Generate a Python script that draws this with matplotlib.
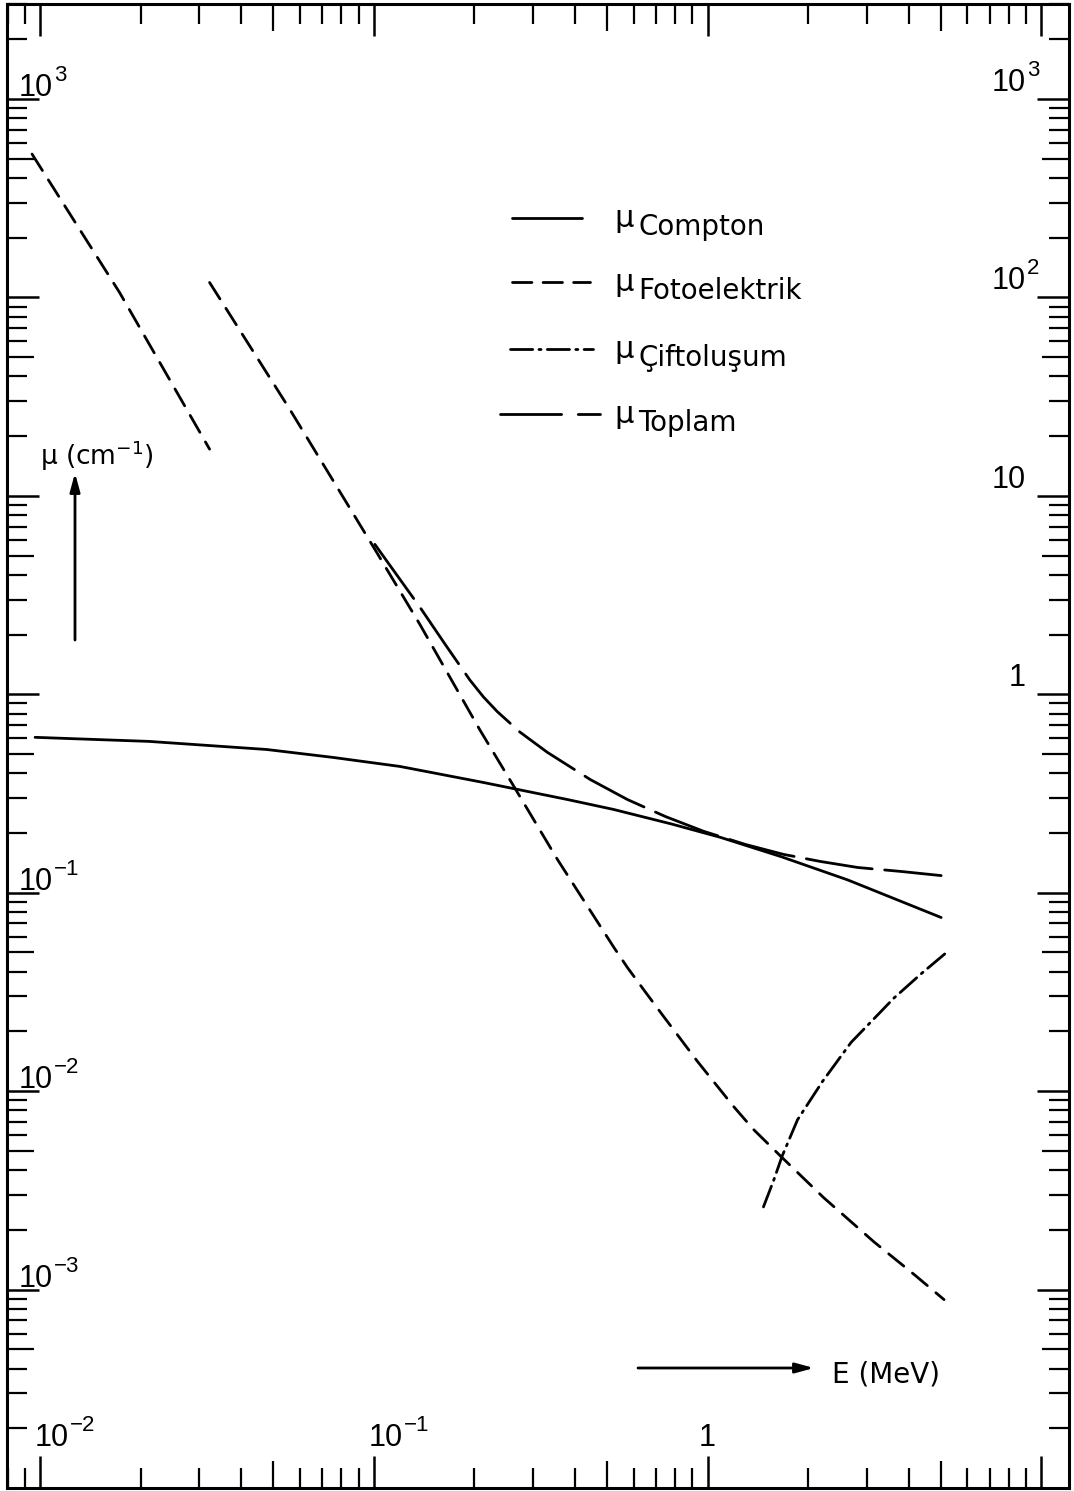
import numpy as np
import matplotlib
matplotlib.use("Agg")
import matplotlib.pyplot as plt
import matplotlib.transforms as mtrans
from matplotlib.ticker import LogLocator, NullFormatter

# ---------------- data ----------------
compton_E = [0.00966, 0.0212, 0.0478, 0.0753, 0.1197, 0.212, 0.380, 0.522, 0.78, 1.094, 1.66, 2.63, 5.01]
compton_mu = [0.607, 0.579, 0.527, 0.481, 0.433, 0.360, 0.295, 0.263, 0.222, 0.190, 0.152, 0.116, 0.075]

foto_low_E = [0.00946, 0.0173, 0.0322]
foto_low_mu = [528.0, 106.0, 17.2]

foto_high_E = [0.0322, 0.056, 0.1007, 0.1374, 0.208, 0.261, 0.355, 0.522, 0.575, 0.643, 0.738,
               0.933, 1.197, 1.374, 1.66, 2.23, 3.15, 4.16, 5.11]
foto_high_mu = [119.0, 27.3, 5.38, 2.25, 0.66, 0.35, 0.147, 0.0535, 0.042, 0.0325, 0.0238,
                0.0141, 0.00836, 0.0064, 0.00468, 0.0029, 0.00174, 0.00119, 0.00089]

cift_E = [1.47, 1.58, 1.67, 1.86, 2.21, 2.69, 3.09, 3.62, 4.36, 5.19]
cift_mu = [0.00261, 0.00358, 0.00468, 0.00718, 0.0112, 0.0176, 0.0224, 0.0295, 0.039, 0.0499]

toplam_E = [0.1007, 0.114, 0.1374, 0.1634, 0.194, 0.213, 0.234, 0.274, 0.331, 0.445, 0.575, 0.748,
            0.973, 1.30, 1.69, 2.18, 2.82, 3.80, 5.01]
toplam_mu = [5.70, 4.26, 2.75, 1.79, 1.18, 0.97, 0.82, 0.645, 0.51, 0.372, 0.295, 0.242,
             0.204, 0.175, 0.156, 0.1437, 0.134, 0.128, 0.122]

legend_names = ["Compton", "Fotoelektrik", "Çiftoluşum", "Toplam"]

ytick_left_vals = [1e3, 1e-1, 1e-2, 1e-3]
ytick_left_base = ["10", "10", "10", "10"]
ytick_left_exp = ["3", "−1", "−2", "−3"]
ytick_right_vals = [1e3, 1e2, 1e1, 1e0]
ytick_right_base = ["10", "10", "10", "1"]
ytick_right_exp = ["3", "2", "", ""]
xtick_vals = [1e-2, 1e-1, 1e0]
xtick_base = ["10", "10", "1"]
xtick_exp = ["−2", "−1", ""]

# ---------------- style ----------------
plt.rcParams['lines.scale_dashes'] = False
plt.rcParams['font.family'] = ['DejaVu Sans']

NUMFONT = ['Liberation Sans', 'DejaVu Sans']
NUM_FS = 22
EXP_FS = 16
LW = 2.0
FOTO_LS = (0, (14, 8))
CIFT_LS = (0, (16, 4.5, 1.5, 4.5))
TOPLAM_LS = (0, (48, 9))

W, H = 1074, 1491
fig = plt.figure(figsize=(W / 100, H / 100), dpi=100)
ax_left, ax_bottom, ax_w, ax_h = 7, 3, 1062, 1484
ax = fig.add_axes([ax_left / W, ax_bottom / H, ax_w / W, ax_h / H])
ax.set_xscale('log')
ax.set_yscale('log')
ax.set_xlim(0.00796, 12.1)
ax.set_ylim(1.0e-4, 3013)

# ---------------- curves ----------------
ax.plot(compton_E, compton_mu, color='black', lw=LW, solid_capstyle='round', solid_joinstyle='round')
ax.plot(foto_low_E, foto_low_mu, color='black', lw=LW, ls=FOTO_LS, dash_capstyle='round')
ax.plot(foto_high_E, foto_high_mu, color='black', lw=LW, ls=FOTO_LS, dash_capstyle='round')
ax.plot(cift_E, cift_mu, color='black', lw=LW, ls=CIFT_LS, dash_capstyle='round')
ax.plot(toplam_E, toplam_mu, color='black', lw=LW, ls=TOPLAM_LS, dash_capstyle='round')

# ---------------- ticks ----------------
ax.xaxis.set_major_locator(LogLocator(base=10, numticks=30))
ax.yaxis.set_major_locator(LogLocator(base=10, numticks=30))
ax.xaxis.set_minor_locator(LogLocator(base=10, subs=np.arange(2, 10), numticks=30))
ax.yaxis.set_minor_locator(LogLocator(base=10, subs=np.arange(2, 10), numticks=30))
for axis in (ax.xaxis, ax.yaxis):
    axis.set_major_formatter(NullFormatter())
    axis.set_minor_formatter(NullFormatter())
ax.tick_params(which='both', direction='in', top=True, right=True, bottom=True, left=True,
               labelbottom=False, labelleft=False, color='black')
ax.tick_params(which='major', length=23, width=1.8)
ax.tick_params(which='minor', length=14.5, width=1.6)
for sp in ax.spines.values():
    sp.set_linewidth(2.2)

fig.canvas.draw()
for axis in (ax.xaxis, ax.yaxis):
    locs = axis.get_minorticklocs()
    ticks = axis.get_minor_ticks(len(locs))
    for t, loc in zip(ticks, locs):
        m = loc / 10 ** np.floor(np.log10(loc) + 1e-9)
        if abs(m - 5) < 1e-6:
            t.tick1line.set_markersize(19.5)
            t.tick2line.set_markersize(19.5)


# ---------------- tick labels (drawn inside) ----------------
def power_label(x, y, transform, base, exp, ha):
    t = ax.text(x, y, base, transform=transform, ha=ha, va='baseline',
                fontsize=NUM_FS, family=NUMFONT)
    if exp:
        ax.annotate(exp, xy=(1, 0.74), xycoords=t, xytext=(0.8, 0), textcoords='offset points',
                    ha='left', va='baseline', fontsize=EXP_FS, family=NUMFONT)


ytr = ax.get_yaxis_transform()
xtr = ax.get_xaxis_transform()
for v, b, e in zip(ytick_left_vals, ytick_left_base, ytick_left_exp):
    power_label((19 - ax_left) / ax_w, v, mtrans.offset_copy(ytr, fig=fig, y=2, units='points'), b, e, 'left')
for v, b, e in zip(ytick_right_vals, ytick_right_base, ytick_right_exp):
    power_label((1026 - ax_left) / ax_w, v, mtrans.offset_copy(ytr, fig=fig, y=6, units='points'), b, e, 'right')
for v, b, e in zip(xtick_vals, xtick_base, xtick_exp):
    ha = 'left' if e else 'center'
    dx = -4 if e else 0
    power_label(v, (1488 - 1446) / ax_h, mtrans.offset_copy(xtr, fig=fig, x=dx, units='points'), b, e, ha)


# ---------------- axis titles with arrows ----------------
def fx(px):
    return (px - ax_left) / ax_w


def fy(py):
    return 1 - (py - (H - ax_bottom - ax_h)) / ax_h


ax.text(fx(40), fy(465), "μ (cm$^{-1}$)", transform=ax.transAxes, fontsize=19,
        ha='left', va='baseline')
ax.annotate("", xy=(fx(75), fy(473)), xytext=(fx(75), fy(640)),
            xycoords='axes fraction', textcoords='axes fraction',
            arrowprops=dict(arrowstyle='-|>,head_length=1.1,head_width=0.3', lw=2.0, color='black',
                            shrinkA=0, shrinkB=0))
ax.text(fx(832), fy(1383), "E (MeV)", transform=ax.transAxes, fontsize=20,
        ha='left', va='baseline')
ax.annotate("", xy=(fx(814), fy(1368)), xytext=(fx(638), fy(1368)),
            xycoords='axes fraction', textcoords='axes fraction',
            arrowprops=dict(arrowstyle='-|>,head_length=1.1,head_width=0.3', lw=2.0, color='black',
                            shrinkA=0, shrinkB=0))

# ---------------- legend (drawn by hand like the reference) ----------------
leg_rows_py = [218, 282, 349, 414]
leg_x = [(512, 582), (512, 590), (510, 593), (500, 600)]
leg_ls = ['-', FOTO_LS, CIFT_LS, (0, (44, 12))]
for name, py, (x0, x1), ls in zip(legend_names, leg_rows_py, leg_x, leg_ls):
    ax.plot([fx(x0), fx(x1)], [fy(py), fy(py)], transform=ax.transAxes, color='black',
            lw=LW, ls=ls, dash_capstyle='round', solid_capstyle='round', clip_on=False)
    ax.text(fx(614), fy(py + 9), "μ", transform=ax.transAxes, fontsize=22, ha='left', va='baseline')
    ax.text(fx(638), fy(py + 17), name, transform=ax.transAxes, fontsize=20, ha='left', va='baseline')

fig.savefig("out.png", dpi=100, facecolor='white')
